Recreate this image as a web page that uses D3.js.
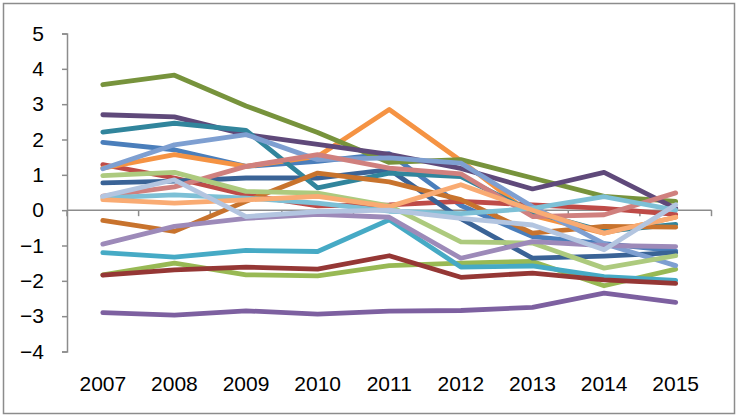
<!DOCTYPE html>
<html>
<head>
<meta charset="utf-8">
<script src="https://cdn.jsdelivr.net/npm/d3@7/dist/d3.min.js"></script>
<style>
  body { margin: 0; background: #ffffff; }
  svg { display: block; }
  text { font-family: "Liberation Sans", Arial, sans-serif; fill: #000; }
</style>
</head>
<body>
<svg id="chart" width="738" height="417"></svg>
<script>
// Categories and value-axis ticks
const years = ["2007", "2008", "2009", "2010", "2011", "2012", "2013", "2014", "2015"];
const yTicks = [-4, -3, -2, -1, 0, 1, 2, 3, 4, 5];

// Series values, one array per line
const blue        = [1.92, 1.71, 1.24, 1.38, 1.60, 0.13, -0.75, -0.95, -1.15];
const red         = [1.29, 0.91, 0.43, 0.12, 0.15, 0.25, 0.15, 0.05, -0.12];
const green       = [-1.83, -1.50, -1.83, -1.86, -1.57, -1.50, -1.45, -2.14, -1.67];
const purple      = [-2.90, -2.97, -2.85, -2.94, -2.86, -2.84, -2.75, -2.35, -2.61];
const aqua        = [-1.20, -1.33, -1.14, -1.17, -0.27, -1.61, -1.58, -1.88, -1.99];
const orange      = [1.19, 1.57, 1.24, 1.52, 2.85, 1.40, -0.15, -0.65, -0.20];
const darkBlue    = [0.77, 0.82, 0.91, 0.91, 1.15, -0.24, -1.36, -1.30, -1.20];
const darkRed     = [-1.84, -1.69, -1.61, -1.67, -1.29, -1.90, -1.78, -1.97, -2.07];
const olive       = [3.55, 3.82, 2.95, 2.20, 1.35, 1.43, 0.91, 0.39, 0.25];
const darkPurple  = [2.70, 2.64, 2.14, 1.86, 1.58, 1.18, 0.60, 1.07, 0.05];
const teal        = [2.21, 2.46, 2.26, 0.63, 1.05, 0.95, -0.05, -0.60, -0.40];
const brown       = [-0.29, -0.60, 0.25, 1.05, 0.80, 0.30, -0.65, -0.46, -0.48];
const lightBlue   = [1.17, 1.85, 2.14, 1.43, 1.48, 1.33, 0.10, -0.95, -1.57];
const pink        = [0.40, 0.66, 1.24, 1.57, 1.19, 1.03, -0.18, -0.13, 0.49];
const lightGreen  = [0.98, 1.07, 0.53, 0.48, 0.12, -0.90, -0.93, -1.64, -1.29];
const lavender    = [-0.96, -0.46, -0.23, -0.12, -0.20, -1.36, -0.89, -1.00, -1.03];
const lightCyan   = [0.35, 0.43, 0.34, 0.20, -0.03, -0.10, 0.05, 0.38, 0.00];
const peach       = [0.30, 0.20, 0.29, 0.39, 0.10, 0.72, 0.00, -0.65, -0.20];
const lightSteel  = [0.39, 0.86, -0.18, -0.04, 0.00, -0.23, -0.42, -1.12, 0.15];

// Drawing order (later series on top) and their stroke colours
const series = [blue, red, green, purple, aqua, orange, darkBlue, darkRed, olive,
                darkPurple, teal, brown, lightBlue, pink, lightGreen, lavender,
                lightCyan, peach, lightSteel];
const colors = ["#4A7EBB", "#BE4B48", "#98B954", "#7D60A0", "#46AAC5", "#F59343",
                "#3A6396", "#953735", "#77933C", "#5F497A", "#31859C", "#C8732D",
                "#7E9FD1", "#D0807E", "#ADCA7E", "#9D8AB9", "#7DC0D6", "#F9AB73",
                "#B3C5E0"];

const svg = d3.select("#chart");
const W = 738, H = 417;

// Chart area frame
svg.append("rect")
  .attr("x", 3.5).attr("y", 3.5)
  .attr("width", W - 7).attr("height", H - 7)
  .attr("fill", "#ffffff")
  .attr("stroke", "#8C8C8C").attr("stroke-width", 1.5);

const plot = { left: 67, right: 711.5, top: 33.5, bottom: 351.5 };

const x = d3.scaleBand().domain(years).range([plot.left, plot.right]).paddingInner(0).paddingOuter(0);
const y = d3.scaleLinear().domain([-4, 5]).range([plot.bottom, plot.top]);
const cx = d => x(d) + x.bandwidth() / 2;

const axisColor = "#8C8C8C";
const labelFont = "Liberation Sans, Arial, sans-serif";

// Value axis
const yAxis = svg.append("g")
  .attr("transform", `translate(${plot.left},0)`)
  .call(d3.axisLeft(y).tickValues(yTicks).tickFormat(d3.format("d")).tickSize(5).tickPadding(18));
yAxis.select(".domain").attr("stroke", axisColor).attr("stroke-width", 1.5);
yAxis.selectAll(".tick line").attr("stroke", axisColor).attr("stroke-width", 1.5);
yAxis.selectAll(".tick text").attr("font-size", 21).attr("font-family", labelFont).attr("fill", "#000");

// Category axis crossing at zero, tick marks between categories
const boundaries = d3.range(years.length + 1).map(i => plot.left + i * x.step());
const xAxisG = svg.append("g");
xAxisG.append("line")
  .attr("x1", plot.left).attr("x2", plot.right)
  .attr("y1", y(0)).attr("y2", y(0))
  .attr("stroke", axisColor).attr("stroke-width", 1.5);
xAxisG.selectAll("line.tick").data(boundaries).join("line")
  .attr("class", "tick")
  .attr("x1", d => d).attr("x2", d => d)
  .attr("y1", y(0)).attr("y2", y(0) + 6)
  .attr("stroke", axisColor).attr("stroke-width", 1.5);

// Category labels placed below the plot
const xLabels = svg.append("g")
  .attr("transform", `translate(0,${plot.bottom + 10})`)
  .call(d3.axisBottom(x).tickSize(0).tickPadding(15));
xLabels.select(".domain").remove();
xLabels.selectAll(".tick text").attr("font-size", 21).attr("font-family", labelFont).attr("fill", "#000");

// Lines
const line = d3.line()
  .x((d, i) => cx(years[i]))
  .y(d => y(d))
  .curve(d3.curveLinear);

svg.append("g").selectAll("path").data(series).join("path")
  .attr("d", d => line(d))
  .attr("fill", "none")
  .attr("stroke", (d, i) => colors[i])
  .attr("stroke-width", 4.8)
  .attr("stroke-linecap", "round")
  .attr("stroke-linejoin", "round");
</script>
</body>
</html>
